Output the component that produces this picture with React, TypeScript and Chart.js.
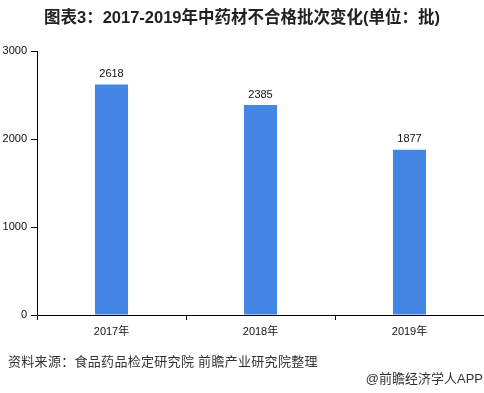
import React, { useEffect, useRef } from "react";
import { Chart, registerables } from "chart.js";

Chart.register(...registerables);

const categories = ["2017年", "2018年", "2019年"];
const values = [2618, 2385, 1877];
const yTicks = [0, 1000, 2000, 3000];

const TITLE = "图表3：2017-2019年中药材不合格批次变化(单位：批)";
const SOURCE = "资料来源：食品药品检定研究院 前瞻产业研究院整理";
const BRAND = "@前瞻经济学人APP";

const FONT = "'Liberation Sans', Arial, 'Noto Sans CJK SC', sans-serif";

const labelPlugin = {
  id: "barLabels",
  afterDatasetsDraw(chart: any) {
    const ctx = chart.ctx;
    const meta = chart.getDatasetMeta(0);
    ctx.save();
    ctx.font = `11px ${FONT}`;
    ctx.fillStyle = "#111";
    ctx.textAlign = "center";
    ctx.textBaseline = "bottom";
    meta.data.forEach((el: any, i: number) => {
      ctx.fillText(String(values[i]), el.x, el.y - 5);
    });
    ctx.restore();
  },
};

export default function App() {
  const ref = useRef<HTMLCanvasElement>(null);

  useEffect(() => {
    if (!ref.current) return;
    const chart = new Chart(ref.current, {
      type: "bar",
      data: {
        labels: categories,
        datasets: [
          {
            data: values,
            backgroundColor: "#4386E4",
            borderWidth: 0,
            categoryPercentage: 1,
            barPercentage: 0.222,
          },
        ],
      },
      options: {
        responsive: false,
        animation: false,
        layout: { padding: { top: 51, left: 0, right: 0, bottom: 0 } },
        plugins: {
          legend: { display: false },
          tooltip: { enabled: false },
          title: { display: false },
        },
        scales: {
          x: {
            grid: {
              display: true,
              drawOnChartArea: false,
              drawTicks: true,
              tickLength: 5,
              color: "#000",
              offset: true,
            },
            border: { display: true, color: "#000", width: 1 },
            ticks: {
              color: "#111",
              font: { size: 11, family: FONT },
              padding: 5,
            },
            afterFit: (s: any) => {
              s.height = 78;
            },
          },
          y: {
            min: 0,
            max: 3000,
            afterBuildTicks: (s: any) => {
              s.ticks = yTicks.map((v) => ({ value: v }));
            },
            grid: {
              display: true,
              drawOnChartArea: false,
              drawTicks: true,
              tickLength: 6,
              color: "#000",
            },
            border: { display: true, color: "#000", width: 1 },
            ticks: {
              color: "#111",
              font: { size: 11, family: FONT },
              padding: 4,
              callback: (v: any) => String(v),
            },
            afterFit: (s: any) => {
              s.width = 37;
            },
          },
        },
      },
      plugins: [labelPlugin],
    });
    return () => chart.destroy();
  }, []);

  return (
    <div
      style={{
        position: "fixed",
        left: 0,
        top: 0,
        width: 484,
        height: 393,
        background: "#fff",
        overflow: "hidden",
        fontFamily: FONT,
      }}
    >
      <canvas
        ref={ref}
        width={484}
        height={393}
        style={{ position: "absolute", left: 0, top: 0, width: 484, height: 393 }}
      />
      <div
        style={{
          position: "absolute",
          left: 0,
          width: 484,
          top: 7,
          textAlign: "center",
          fontSize: 16.5,
          fontWeight: "bold",
          color: "#222",
          lineHeight: "20px",
          whiteSpace: "nowrap",
        }}
      >
        {TITLE}
      </div>
      <div
        style={{
          position: "absolute",
          left: 8,
          top: 353,
          fontSize: 13,
          letterSpacing: 0.3,
          color: "#333",
          lineHeight: "18px",
          whiteSpace: "nowrap",
        }}
      >
        {SOURCE}
      </div>
      <div
        style={{
          position: "absolute",
          right: 1,
          top: 370,
          fontSize: 13,
          color: "#333",
          lineHeight: "18px",
          whiteSpace: "nowrap",
        }}
      >
        {BRAND}
      </div>
    </div>
  );
}
